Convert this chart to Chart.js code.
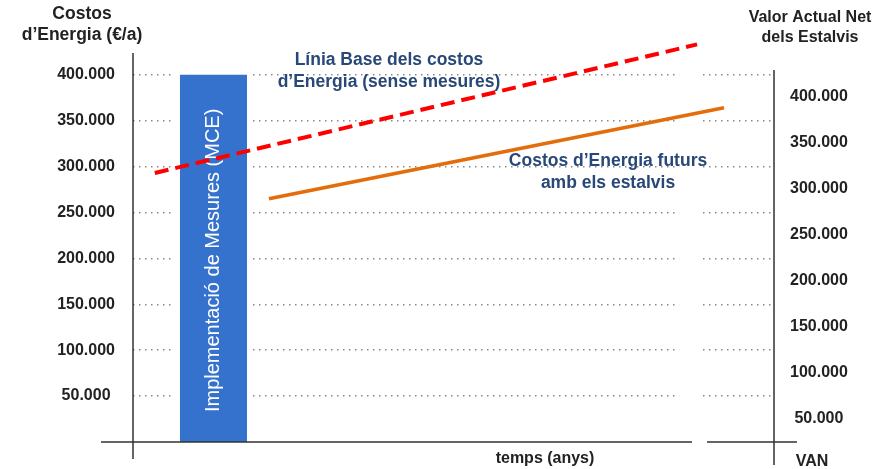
<!DOCTYPE html>
<html>
<head>
<meta charset="utf-8">
<script src="https://cdn.jsdelivr.net/npm/chart.js@4"></script>
<style>
  html, body { margin: 0; padding: 0; background: #fff; }
  #wrap { width: 874px; height: 469px; position: relative; }
</style>
</head>
<body>
<div id="wrap"><canvas id="chart"></canvas></div>
<script>
// costs in €/a, time is an abstract 0..100 scale (no ticks in the original)
const LEFT_TICKS = [50000, 100000, 150000, 200000, 250000, 300000, 350000, 400000];
const RIGHT_TICKS = [50000, 100000, 150000, 200000, 250000, 300000, 350000, 400000];

const BASE_X = [3.4, 88.0];
const BASE_COST = [293000, 433000];

const FUTURE_X = [21.2, 92.2];
const FUTURE_COST = [265000, 364000];

const MCE_X = [7.3, 17.8];
const MCE_COST = [400000, 400000];

const FONT = "'Liberation Sans', Arial, sans-serif";
const NAVY = '#284878';

const fmt = v => String(v).replace(/\B(?=(\d{3})+(?!\d))/g, '.');
const pts = (xs, ys) => xs.map((x, i) => ({x: x, y: ys[i]}));

const frame = {
  id: 'frame',
  beforeDatasetsDraw(chart) {
    const {ctx, chartArea: a, scales: {x}} = chart;
    ctx.save();
    ctx.fillStyle = '#fff';
    // break in the time axis
    const g0 = x.getPixelForValue(85.2), g1 = x.getPixelForValue(88.5);
    ctx.fillRect(g0, a.top, g1 - g0, a.bottom - a.top);
    // grid stops a little before the MCE bar
    const b0 = x.getPixelForValue(MCE_X[0]) - 5, b1 = x.getPixelForValue(MCE_X[1]) + 5;
    ctx.fillRect(b0, a.top, b1 - b0, a.bottom - a.top);
    ctx.restore();
  },
  afterDatasetDraw(chart, args) {
    if (chart.data.datasets[args.index].label !== 'MCE') return;
    const {ctx, scales: {x, y}} = chart;
    const cx = (x.getPixelForValue(MCE_X[0]) + x.getPixelForValue(MCE_X[1])) / 2;
    const cy = (y.getPixelForValue(MCE_COST[0]) + y.getPixelForValue(0)) / 2 + 2;
    ctx.save();
    ctx.translate(cx, cy);
    ctx.rotate(-Math.PI / 2);
    ctx.fillStyle = '#fff';
    ctx.font = '20px ' + FONT;
    ctx.textAlign = 'center';
    ctx.textBaseline = 'middle';
    ctx.fillText('Implementació de Mesures (MCE)', 0, 0);
    ctx.restore();
  },
  afterDraw(chart) {
    const {ctx, chartArea: a} = chart;
    ctx.save();
    ctx.strokeStyle = '#333';
    ctx.lineWidth = 1.5;
    ctx.beginPath();
    ctx.moveTo(a.left, a.top + 15); ctx.lineTo(a.left, a.bottom + 17);
    ctx.moveTo(a.right, a.top + 32); ctx.lineTo(a.right, a.bottom + 23);
    ctx.moveTo(a.left - 32, a.bottom); ctx.lineTo(692, a.bottom);
    ctx.moveTo(707, a.bottom); ctx.lineTo(a.right + 23, a.bottom);
    ctx.stroke();

    ctx.textAlign = 'center';
    ctx.textBaseline = 'middle';
    const text = (s, x, y, font, color) => {
      ctx.font = font;
      ctx.fillStyle = color;
      ctx.fillText(s, x, y);
    };
    const b17 = 'bold 17.5px ' + FONT, b16 = 'bold 16px ' + FONT;
    text('Costos', 82, 14, b17, '#222');
    text('d\u2019Energia (\u20ac/a)', 82, 35, b17, '#222');
    text('Valor Actual Net', 810, 18, b16, '#222');
    text('dels Estalvis', 810, 38, b16, '#222');
    text('Línia Base dels costos', 389, 60, b17, NAVY);
    text('d\u2019Energia (sense mesures)', 389, 82, b17, NAVY);
    text('Costos d\u2019Energia futurs', 608, 161, b17, NAVY);
    text('amb els estalvis', 608, 183, b17, NAVY);
    text('temps (anys)', 545, 459, b16, '#222');
    text('VAN', 812, 462, b16, '#222');
    ctx.restore();
  }
};

const tickFont = {family: FONT, size: 16, weight: 'bold'};

new Chart(document.getElementById('chart'), {
  type: 'line',
  data: {
    datasets: [{
      label: 'Línia Base',
      data: pts(BASE_X, BASE_COST),
      borderColor: '#ff0000',
      borderWidth: 4,
      borderDash: [14, 7],
      yAxisID: 'y',
      order: 0
    }, {
      label: 'Costos futurs',
      data: pts(FUTURE_X, FUTURE_COST),
      borderColor: '#e46c0a',
      borderWidth: 3.5,
      yAxisID: 'y',
      order: 1
    }, {
      label: 'MCE',
      data: pts(MCE_X, MCE_COST),
      borderColor: '#3572cd',
      borderWidth: 0,
      backgroundColor: '#3572cd',
      fill: 'origin',
      yAxisID: 'y',
      order: 2
    }]
  },
  options: {
    responsive: true,
    maintainAspectRatio: false,
    animation: false,
    layout: {padding: {top: 38, bottom: 27, left: 0, right: 0}},
    elements: {point: {radius: 0}, line: {tension: 0}},
    plugins: {legend: {display: false}, tooltip: {enabled: false}},
    scales: {
      x: {type: 'linear', display: false, min: 0, max: 100},
      y: {
        position: 'left',
        min: 0,
        max: 440000,
        afterBuildTicks: s => { s.ticks = LEFT_TICKS.map(v => ({value: v})); },
        afterFit: s => { s.width = 133; s.paddingTop = 0; s.paddingBottom = 0; },
        border: {display: false, dash: [1.5, 4.5]},
        grid: {color: '#8a8a8a', lineWidth: 1.5, drawTicks: false},
        ticks: {crossAlign: 'center', padding: 18, color: '#222', font: tickFont, callback: fmt}
      },
      y2: {
        position: 'right',
        min: 24000,
        max: 464000,
        afterBuildTicks: s => { s.ticks = RIGHT_TICKS.map(v => ({value: v})); },
        afterFit: s => { s.width = 100; s.paddingTop = 0; s.paddingBottom = 0; },
        border: {display: false},
        grid: {display: false, drawTicks: false},
        ticks: {crossAlign: 'center', padding: 16, color: '#222', font: tickFont, callback: fmt}
      }
    }
  },
  plugins: [frame]
});
</script>
</body>
</html>
